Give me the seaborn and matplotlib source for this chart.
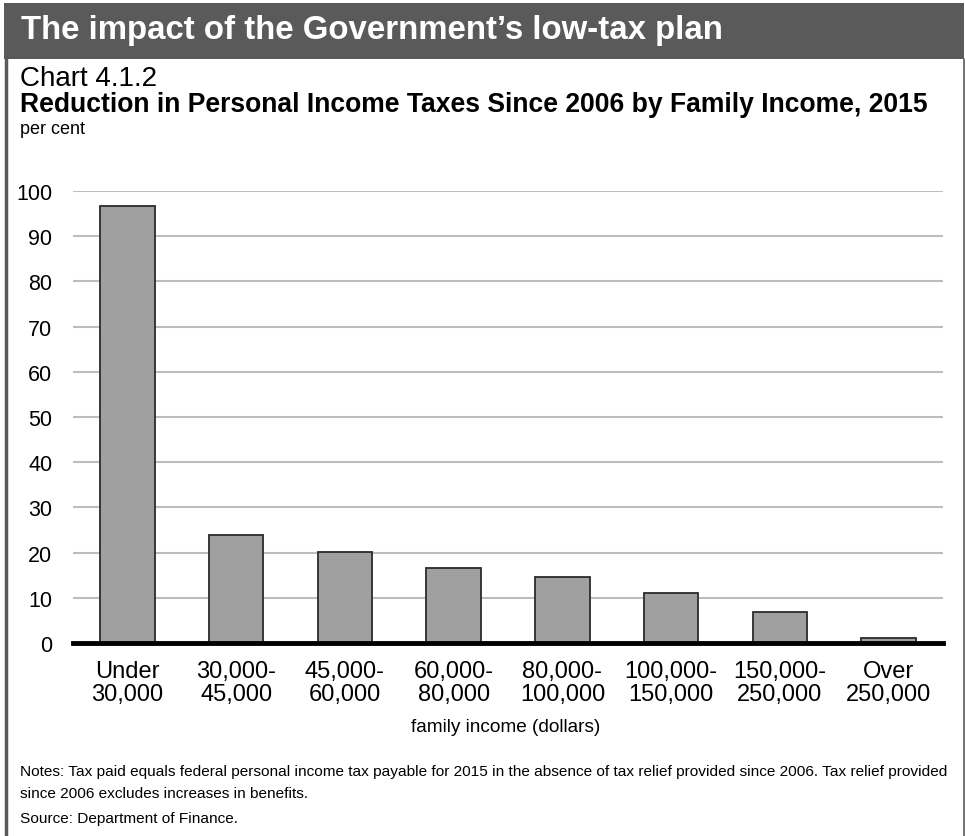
import matplotlib
matplotlib.use('Agg')
import matplotlib.pyplot as plt
import seaborn as sns
import pandas as pd
from matplotlib.patches import Rectangle
from matplotlib.lines import Line2D

# values
income_groups = ['Under\n30,000', '30,000-\n45,000', '45,000-\n60,000', '60,000-\n80,000',
                 '80,000-\n100,000', '100,000-\n150,000', '150,000-\n250,000', 'Over\n250,000']
reduction_pct = [96.6, 24.0, 20.1, 16.5, 14.7, 11.0, 6.8, 1.2]
y_ticks = [0, 10, 20, 30, 40, 50, 60, 70, 80, 90, 100]

df = pd.DataFrame({'group': income_groups, 'pct': reduction_pct})

sns.set_theme(style='white')
plt.rcParams['font.family'] = ['Liberation Sans', 'DejaVu Sans']

W, H = 965, 837
fig = plt.figure(figsize=(W / 100, H / 100), dpi=100)

def fx(px):
    return px / W

def fy(py):
    return 1 - py / H

# header band and frame
fig.patches.append(Rectangle((fx(4), fy(60)), fx(960), 56 / H, transform=fig.transFigure,
                             facecolor='#5a5a5a', edgecolor='none', zorder=0))
fig.lines.append(Line2D([fx(5.5), fx(5.5)], [fy(60), 0], transform=fig.transFigure,
                        color='#5a5a5a', lw=2.5))
fig.lines.append(Line2D([fx(963.5), fx(963.5)], [fy(60), 0], transform=fig.transFigure,
                        color='#5a5a5a', lw=1.2))

fig.text(fx(21), fy(31), 'The impact of the Government\u2019s low-tax plan', color='white',
         fontsize=23.8, fontweight='bold', va='center', ha='left')
fig.text(fx(20), fy(79), 'Chart 4.1.2', fontsize=20, va='center', ha='left', color='black')
fig.text(fx(20), fy(105), 'Reduction in Personal Income Taxes Since 2006 by Family Income, 2015',
         fontsize=19.1, fontweight='bold', va='center', ha='left', color='black')
fig.text(fx(20), fy(129), 'per cent', fontsize=13, va='center', ha='left', color='black')

ax = fig.add_axes([fx(73), fy(644), fx(943) - fx(73), (644 - 192) / H])
sns.barplot(data=df, x='group', y='pct', color='#a0a0a0', edgecolor='#2b2b2b',
            linewidth=1.3, width=0.5, saturation=1, ax=ax, zorder=3)

ax.set_ylim(0, 100)
ax.set_xlim(-0.5, len(income_groups) - 0.5)
ax.set_yticks(y_ticks)
ax.yaxis.grid(True, color='#bdbdbd', lw=1.5, zorder=0)
ax.set_axisbelow(True)
for s in ['left', 'right', 'top']:
    ax.spines[s].set_visible(False)
ax.spines['bottom'].set_color('black')
ax.spines['bottom'].set_linewidth(3.5)
ax.spines['bottom'].set_zorder(5)
ax.tick_params(axis='y', length=0, pad=15, labelsize=15.5, labelcolor='black')
ax.tick_params(axis='x', length=0, pad=12, labelsize=17, labelcolor='black')
for lbl in ax.get_xticklabels():
    lbl.set_linespacing(1.1)
ax.set_xlabel('')
ax.set_ylabel('')

fig.text(fx(506), fy(728), 'family income (dollars)', fontsize=13.7, ha='center', va='center',
         color='black')
fig.text(fx(20), fy(772),
         'Notes: Tax paid equals federal personal income tax payable for 2015 in the absence of '
         'tax relief provided since 2006. Tax relief provided',
         fontsize=11.1, ha='left', va='center', color='black')
fig.text(fx(20), fy(794), 'since 2006 excludes increases in benefits.',
         fontsize=11.1, ha='left', va='center', color='black')
fig.text(fx(20), fy(819), 'Source: Department of Finance.',
         fontsize=11.1, ha='left', va='center', color='black')

fig.savefig('out.png', dpi=100)
